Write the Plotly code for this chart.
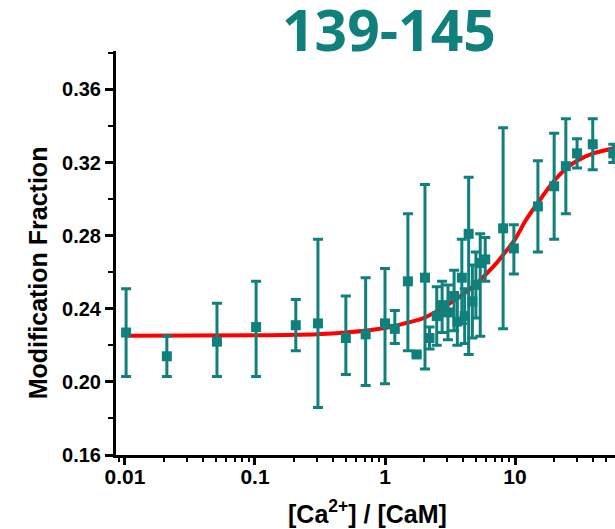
import plotly.graph_objects as go

# ---- data ----
ratio = [0.0102, 0.021, 0.051, 0.102, 0.206, 0.305, 0.50, 0.71, 1.0, 1.19,
         1.50, 1.75, 2.03, 2.2, 2.5, 2.75, 3.05, 3.4, 3.6, 3.9,
         4.1, 4.4, 4.7, 5.0, 5.4, 5.9, 8.1, 9.8, 15, 20,
         24.6, 30, 39.6, 57]
frac = [0.227, 0.214, 0.222, 0.230, 0.231, 0.232, 0.224, 0.226, 0.232, 0.229,
        0.255, 0.215, 0.257, 0.224, 0.236, 0.242, 0.238, 0.247, 0.233, 0.257,
        0.236, 0.281, 0.244, 0.253, 0.265, 0.267, 0.284, 0.273, 0.296, 0.307,
        0.318, 0.325, 0.330, 0.325]
err_up = [0.024, 0.011, 0.021, 0.025, 0.014, 0.046, 0.023, 0.031, 0.030, 0.010,
          0.037, 0.001, 0.051, 0.006, 0.016, 0.013, 0.015, 0.014, 0.013, 0.021,
          0.015, 0.031, 0.020, 0.018, 0.016, 0.012, 0.055, 0.013, 0.025, 0.029,
          0.026, 0.008, 0.014, 0.005]
err_dn = [0.024, 0.011, 0.019, 0.027, 0.014, 0.046, 0.020, 0.028, 0.033, 0.008,
          0.038, 0.001, 0.050, 0.006, 0.016, 0.015, 0.015, 0.019, 0.013, 0.025,
          0.015, 0.066, 0.020, 0.018, 0.040, 0.012, 0.055, 0.014, 0.025, 0.029,
          0.026, 0.008, 0.014, 0.005]

fit_x = [0.0102, 0.1, 0.3, 0.5, 1.0, 1.5, 2, 3, 4, 5, 6, 7, 8, 10, 12, 15, 20, 25, 30, 40, 60]
fit_y = [0.2252, 0.2255, 0.226, 0.227, 0.2295, 0.2325, 0.235, 0.242, 0.248, 0.2535,
         0.259, 0.264, 0.269, 0.278, 0.288, 0.298, 0.310, 0.317, 0.321, 0.325, 0.328]

x_tickvals = [0.01, 0.1, 1, 10]
x_ticktext = ["0.01", "0.1", "1", "10"]
x_minor = [k * 10.0 ** n for n in range(-3, 2) for k in range(2, 10)]

TEAL = "#10807c"
FONT = "Arial, Liberation Sans, sans-serif"

fig = go.Figure()
fig.add_trace(go.Scatter(x=fit_x, y=fit_y, mode="lines",
                         line=dict(color="#ff0000", width=4, shape="spline"),
                         showlegend=False, hoverinfo="skip"))
fig.add_trace(go.Scatter(x=ratio, y=frac, mode="markers",
                         marker=dict(symbol="square", size=10, color=TEAL),
                         error_y=dict(type="data", array=err_up, arrayminus=err_dn,
                                      color=TEAL, thickness=3, width=5),
                         showlegend=False))

fig.update_layout(
    width=615, height=529,
    margin=dict(l=116, r=0, t=51, b=74),
    paper_bgcolor="white", plot_bgcolor="white",
    font=dict(family=FONT, color="black"),
    xaxis=dict(type="log", range=[-2.069, 1.769],
               tickmode="array", tickvals=x_tickvals, ticktext=x_ticktext,
               ticks="outside", ticklen=7, tickwidth=2.5, tickcolor="black",
               ticklabelstandoff=-6,
               showline=True, linewidth=3, linecolor="black",
               showgrid=False, zeroline=False,
               tickfont=dict(size=21, weight="bold", family=FONT),
               minor=dict(tickmode="array", tickvals=x_minor, ticks="outside",
                          ticklen=4, tickwidth=2, tickcolor="black", showgrid=False)),
    yaxis=dict(range=[0.16, 0.381], tick0=0.16, dtick=0.04, tickformat=".2f",
               ticks="outside", ticklen=8, tickwidth=2.5, tickcolor="black",
               showline=True, linewidth=3, linecolor="black",
               showgrid=False, zeroline=False,
               tickfont=dict(size=20, weight="bold", family=FONT),
               minor=dict(dtick=0.02, ticks="outside", ticklen=5, tickwidth=2,
                          tickcolor="black", showgrid=False)),
    annotations=[
        dict(text="[Ca<sup>2+</sup>] / [CaM]",
             xref="paper", yref="paper", x=(367 - 116) / 499, y=-(512 - 455) / 404,
             xanchor="center", yanchor="middle", showarrow=False,
             font=dict(size=25, weight="bold", family=FONT, color="black")),
        dict(text="Modification Fraction", textangle=-90,
             xref="paper", yref="paper", x=-0.156, y=0.45,
             xanchor="center", yanchor="middle", showarrow=False,
             font=dict(size=25, weight="bold", family=FONT, color="black")),
        dict(text="139-145", xref="paper", yref="paper",
             x=(389 - 116) / 499, y=1 + (51 - 29) / 404,
             xanchor="center", yanchor="middle", showarrow=False,
             font=dict(size=57, weight="bold", family="Open Sans", color=TEAL)),
    ],
)

fig.write_html("out.html")
